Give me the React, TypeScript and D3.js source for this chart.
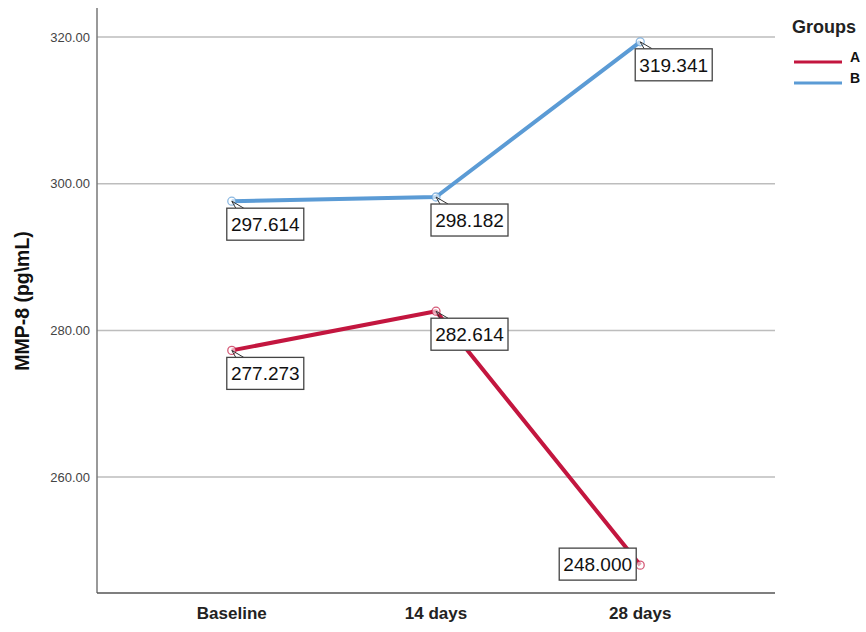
import React from "react";
import * as d3 from "d3";

const categories = ["Baseline", "14 days", "28 days"];
const groupA = [277.273, 282.614, 248.0];
const groupB = [297.614, 298.182, 319.341];
const yTicks = [260, 280, 300, 320];
const groupNames = ["A", "B"];
const colors = ["#c3163f", "#5b9bd5"];

const W = 866, H = 632;
const left = 97, right = 775, top = 8, bottom = 593;

export default function App() {
  const x = d3.scalePoint<string>().domain(categories).range([left, right]).padding(0.66);
  const y = d3.scaleLinear().domain([244.2, 323.95]).range([bottom, top]);
  const line = d3.line<number>().x((_, i) => x(categories[i])!).y((d) => y(d));
  const series = [groupA, groupB];

  const boxW = 77, boxH = 32;
  const labels: { px: number; py: number; v: number; side: "br" | "l" }[] = [];
  series.forEach((s) =>
    s.forEach((v, i) => {
      const px = x(categories[i])!;
      const py = y(v);
      labels.push({ px, py, v, side: i === 2 && v < 260 ? "l" : "br" });
    })
  );

  return (
    <svg width={W} height={H} style={{ position: "absolute", left: 0, top: 0, background: "#fff" }}
      fontFamily="Liberation Sans, Arial, sans-serif">
      {yTicks.map((t) => (
        <g key={t}>
          <line x1={left} x2={right} y1={y(t)} y2={y(t)} stroke="#bdbdbd" strokeWidth={1.5} />
          <text x={90} y={y(t)} dy="0.35em" textAnchor="end" fontSize={13} fill="#444">
            {t.toFixed(2)}
          </text>
        </g>
      ))}
      <line x1={left} x2={left} y1={top} y2={bottom} stroke="#777" strokeWidth={1.5} />
      <line x1={left} x2={right} y1={bottom} y2={bottom} stroke="#555" strokeWidth={1.5} />
      {categories.map((c) => (
        <text key={c} x={x(c)} y={619} textAnchor="middle" fontSize={17} fontWeight="bold" fill="#222">
          {c}
        </text>
      ))}
      <text transform={`translate(29,301) rotate(-90)`} textAnchor="middle" fontSize={19.5} fontWeight="bold" fill="#111">
        MMP-8 (pg\mL)
      </text>
      {series.map((s, k) => (
        <g key={k}>
          <path d={line(s)!} fill="none" stroke={colors[k]} strokeWidth={4} strokeLinejoin="round" />
          {s.map((v, i) => (
            <circle key={i} cx={x(categories[i])} cy={y(v)} r={4} fill="#fff" fillOpacity={0.6}
              stroke={colors[k]} strokeOpacity={0.7} strokeWidth={1.3} />
          ))}
        </g>
      ))}
      {labels.map((l, i) => {
        const bx = l.side === "br" ? l.px - 5 : l.px - 4 - boxW;
        const by = l.side === "br" ? l.py + 7 : l.py - boxH / 2 - 1;
        return (
          <g key={i}>
            {l.side === "br" && (
              <path d={`M${l.px},${l.py} L${l.px + 12},${by} M${l.px},${l.py} L${l.px + 4},${by}`}
                stroke="#333" strokeWidth={1} fill="none" />
            )}
            <rect x={bx} y={by} width={boxW} height={boxH} fill="#fff" stroke="#444" strokeWidth={1.3} />
            <text x={bx + boxW / 2} y={by + boxH / 2} dy="0.36em" textAnchor="middle" fontSize={19} fill="#111">
              {l.v.toFixed(3)}
            </text>
          </g>
        );
      })}
      <text x={792} y={33} fontSize={18} fontWeight="bold" fill="#222">Groups</text>
      {groupNames.map((g, i) => (
        <g key={g}>
          <line x1={794} x2={842} y1={62 + i * 21} y2={62 + i * 21} stroke={colors[i]} strokeWidth={3} />
          <text x={850} y={62 + i * 21} fontSize={14} fontWeight="bold" fill="#111">{g}</text>
        </g>
      ))}
    </svg>
  );
}
